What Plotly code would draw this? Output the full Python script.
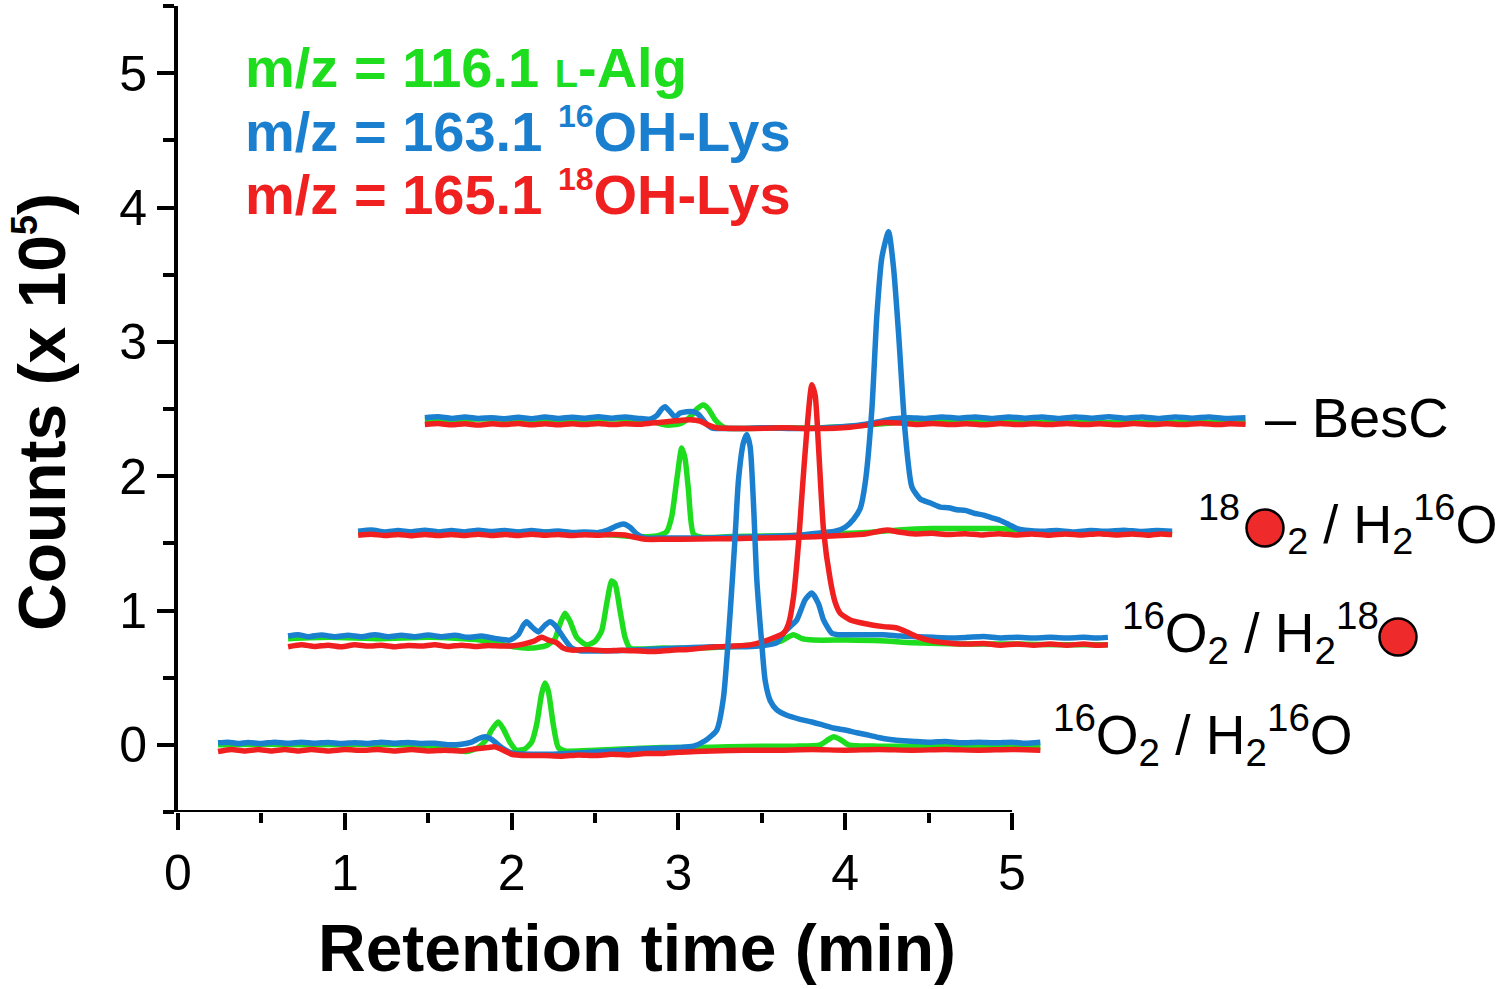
import plotly.graph_objects as go

# ---------------- data (raw chromatograms, x in min, y in counts x 1e5) ----------------
CONDITIONS = ["16O2 / H216O", "16O2 / H218O", "18O2 / H216O", "- BesC"]
X_SHIFT = [0.0, 0.41, 0.82, 1.23]     # horizontal stacking offset of each chromatogram
Y_SHIFT = [0.0, 0.80, 1.58, 2.42]     # vertical stacking offset of each chromatogram
SERIES = ["m/z = 116.1 L-Alg", "m/z = 163.1 16OH-Lys", "m/z = 165.1 18OH-Lys"]

# condition 0 : 16O2 / H2 16O
C0_GREEN = [(0.24, 0.0), (0.5, 0.005), (0.8, 0.0), (1.1, 0.005), (1.4, 0.0), (1.6, -0.02), (1.73, -0.05),
            (1.80, -0.02), (1.85, 0.04), (1.88, 0.11), (1.92, 0.17), (1.95, 0.12), (1.99, 0.02), (2.03, -0.04),
            (2.08, -0.03), (2.12, 0.02), (2.15, 0.15), (2.18, 0.38), (2.20, 0.46), (2.22, 0.40), (2.25, 0.15),
            (2.28, -0.02), (2.32, -0.045), (2.5, -0.04), (2.7, -0.03), (2.9, -0.02), (3.1, -0.02), (3.3, -0.015),
            (3.5, -0.01), (3.7, -0.01), (3.85, 0.0), (3.90, 0.04), (3.93, 0.06), (3.97, 0.04), (4.02, 0.0),
            (4.2, -0.01), (4.5, -0.01), (4.8, -0.015), (5.17, -0.02)]
C0_BLUE = [(0.24, 0.015), (0.30, 0.02), (0.36, 0.01), (0.42, 0.018), (0.50, 0.01), (0.58, 0.02), (0.66, 0.012),
           (0.74, 0.02), (0.82, 0.012), (0.90, 0.018), (0.98, 0.01), (1.06, 0.016), (1.14, 0.01), (1.22, 0.02),
           (1.30, 0.012), (1.38, 0.018), (1.46, 0.01), (1.54, 0.012), (1.62, 0.0), (1.70, 0.005), (1.76, 0.02),
           (1.80, 0.045), (1.84, 0.06), (1.88, 0.04), (1.94, -0.02), (2.00, -0.06), (2.2, -0.07), (2.4, -0.06),
           (2.6, -0.045), (2.8, -0.03), (3.0, -0.02), (3.09, -0.01), (3.16, 0.03), (3.23, 0.11), (3.27, 0.35),
           (3.31, 0.98), (3.34, 1.55), (3.36, 1.97), (3.39, 2.25), (3.41, 2.31), (3.43, 2.22), (3.45, 1.8),
           (3.47, 1.23), (3.50, 0.75), (3.52, 0.48), (3.55, 0.33), (3.59, 0.26), (3.65, 0.22), (3.73, 0.19),
           (3.80, 0.17), (3.86, 0.15), (3.93, 0.125), (4.00, 0.11), (4.07, 0.09), (4.13, 0.075), (4.20, 0.055),
           (4.27, 0.04), (4.35, 0.03), (4.43, 0.025), (4.52, 0.02), (4.60, 0.025), (4.70, 0.015), (4.80, 0.02),
           (4.90, 0.015), (5.00, 0.02), (5.08, 0.012), (5.17, 0.02)]
C0_RED = [(0.24, -0.05), (0.32, -0.035), (0.40, -0.045), (0.48, -0.035), (0.56, -0.045), (0.64, -0.035),
          (0.72, -0.045), (0.80, -0.035), (0.90, -0.045), (1.00, -0.035), (1.10, -0.04), (1.20, -0.035),
          (1.30, -0.045), (1.40, -0.035), (1.50, -0.045), (1.60, -0.04), (1.70, -0.045), (1.78, -0.03),
          (1.86, -0.02), (1.90, -0.015), (1.95, -0.04), (2.00, -0.07), (2.10, -0.08), (2.20, -0.08), (2.30, -0.085),
          (2.40, -0.075), (2.50, -0.08), (2.60, -0.07), (2.70, -0.075), (2.80, -0.065), (2.90, -0.065),
          (3.00, -0.055), (3.10, -0.05), (3.20, -0.045), (3.40, -0.04), (3.60, -0.04), (3.80, -0.035),
          (4.00, -0.04), (4.20, -0.035), (4.40, -0.04), (4.60, -0.035), (4.80, -0.04), (5.00, -0.035), (5.17, -0.04)]

# condition 1 : 16O2 / H2 18O
C1_GREEN = [(0.25, -0.01), (0.5, 0.0), (0.8, -0.01), (1.1, 0.0), (1.4, -0.02), (1.6, -0.07), (1.7, -0.08),
            (1.80, -0.06), (1.85, -0.01), (1.88, 0.10), (1.91, 0.18), (1.94, 0.12), (1.98, 0.0), (2.04, -0.056),
            (2.09, -0.03), (2.13, 0.05), (2.16, 0.25), (2.19, 0.42), (2.21, 0.40), (2.24, 0.2), (2.27, 0.0),
            (2.30, -0.08), (2.5, -0.08), (2.7, -0.08), (2.9, -0.07), (3.1, -0.05), (3.2, -0.03), (3.28, 0.02),
            (3.33, -0.01), (3.4, -0.02), (3.6, -0.02), (3.8, -0.025), (4.0, -0.04), (4.3, -0.05), (4.6, -0.05),
            (4.9, -0.055), (5.165, -0.055)]
C1_BLUE = [(0.25, 0.01), (0.31, 0.02), (0.37, 0.005), (0.45, 0.018), (0.53, 0.005), (0.61, 0.015), (0.69, 0.005),
           (0.77, 0.02), (0.85, 0.005), (0.93, 0.015), (1.01, 0.005), (1.09, 0.018), (1.17, 0.005), (1.25, 0.015),
           (1.33, 0.0), (1.41, 0.01), (1.50, -0.01), (1.58, -0.02), (1.63, 0.02), (1.66, 0.09), (1.68, 0.117),
           (1.71, 0.08), (1.75, 0.04), (1.79, 0.09), (1.82, 0.117), (1.85, 0.09), (1.90, 0.0), (1.95, -0.08),
           (2.00, -0.10), (2.2, -0.10), (2.4, -0.09), (2.6, -0.08), (2.8, -0.07), (3.0, -0.07), (3.1, -0.06),
           (3.18, -0.04), (3.22, 0.03), (3.26, 0.08), (3.30, 0.13), (3.35, 0.28), (3.39, 0.33), (3.43, 0.25),
           (3.46, 0.13), (3.51, 0.03), (3.55, 0.02), (3.62, 0.02), (3.72, 0.02), (3.82, 0.02), (3.92, 0.01),
           (4.02, 0.005), (4.12, 0.0), (4.22, -0.004), (4.32, 0.0), (4.42, 0.006), (4.52, -0.004), (4.62, 0.0),
           (4.72, -0.004), (4.82, 0.0), (4.92, -0.004), (5.02, 0.0), (5.10, -0.004), (5.165, 0.0)]
C1_RED = [(0.25, -0.07), (0.33, -0.055), (0.41, -0.068), (0.49, -0.058), (0.57, -0.07), (0.65, -0.055),
          (0.73, -0.065), (0.81, -0.058), (0.89, -0.07), (0.97, -0.06), (1.05, -0.065), (1.13, -0.055),
          (1.21, -0.068), (1.29, -0.058), (1.37, -0.068), (1.45, -0.06), (1.53, -0.065), (1.60, -0.062),
          (1.66, -0.05), (1.72, -0.03), (1.77, 0.0), (1.81, -0.02), (1.86, -0.04), (1.90, -0.08), (1.95, -0.095),
          (2.05, -0.09), (2.15, -0.1), (2.25, -0.095), (2.42, -0.106), (2.55, -0.095), (2.65, -0.09),
          (2.82, -0.07), (2.92, -0.065), (3.02, -0.056), (3.10, -0.031), (3.18, 0.006), (3.22, 0.03),
          (3.25, 0.10), (3.28, 0.30), (3.31, 0.70), (3.33, 1.05), (3.36, 1.54), (3.39, 1.88), (3.41, 1.80),
          (3.43, 1.42), (3.46, 0.80), (3.50, 0.43), (3.53, 0.26), (3.56, 0.18), (3.62, 0.13), (3.72, 0.10),
          (3.82, 0.08), (3.90, 0.07), (3.96, 0.04), (4.02, 0.006), (4.12, -0.03), (4.22, -0.043), (4.32, -0.05),
          (4.42, -0.045), (4.52, -0.058), (4.62, -0.05), (4.72, -0.058), (4.82, -0.05), (4.92, -0.058),
          (5.02, -0.05), (5.10, -0.058), (5.165, -0.055)]

# condition 2 : 18O2 / H2 16O
C2_GREEN = [(0.26, 0.0), (0.6, 0.005), (1.0, 0.0), (1.4, 0.005), (1.7, -0.01), (1.9, -0.03), (2.05, -0.025),
            (2.11, 0.007), (2.14, 0.12), (2.17, 0.39), (2.20, 0.63), (2.22, 0.55), (2.24, 0.32), (2.27, -0.01),
            (2.32, -0.035), (2.5, -0.03), (2.7, -0.025), (2.9, -0.02), (3.1, -0.01), (3.3, 0.0), (3.5, 0.02),
            (3.7, 0.03), (3.9, 0.03), (4.1, 0.03), (4.25, 0.015), (4.4, -0.005), (4.7, -0.005), (5.14, -0.005)]
C2_BLUE = [(0.26, 0.01), (0.34, 0.02), (0.42, 0.005), (0.50, 0.015), (0.58, 0.005), (0.66, 0.018), (0.74, 0.005),
           (0.82, 0.015), (0.90, 0.005), (0.98, 0.018), (1.06, 0.008), (1.14, 0.015), (1.22, 0.005), (1.30, 0.015),
           (1.38, 0.005), (1.46, 0.012), (1.54, 0.0), (1.62, 0.005), (1.70, 0.0), (1.76, 0.02), (1.81, 0.05),
           (1.85, 0.064), (1.89, 0.04), (1.93, -0.01), (1.98, -0.04), (2.1, -0.04), (2.3, -0.04), (2.5, -0.035),
           (2.7, -0.03), (2.9, -0.02), (3.05, 0.0), (3.12, 0.01), (3.18, 0.04), (3.23, 0.1), (3.27, 0.18),
           (3.30, 0.37), (3.34, 0.92), (3.37, 1.62), (3.40, 2.05), (3.44, 2.24), (3.47, 1.97), (3.50, 1.48),
           (3.54, 0.74), (3.58, 0.34), (3.63, 0.25), (3.69, 0.22), (3.75, 0.19), (3.80, 0.185), (3.85, 0.17),
           (3.90, 0.165), (3.95, 0.145), (4.01, 0.13), (4.06, 0.11), (4.11, 0.09), (4.16, 0.06), (4.21, 0.03),
           (4.28, 0.015), (4.35, 0.01), (4.45, 0.015), (4.55, 0.005), (4.65, 0.015), (4.75, 0.01), (4.85, 0.018),
           (4.95, 0.008), (5.05, 0.015), (5.14, 0.01)]
C2_RED = [(0.26, -0.02), (0.34, -0.012), (0.42, -0.022), (0.50, -0.014), (0.58, -0.024), (0.66, -0.014),
          (0.74, -0.022), (0.82, -0.014), (0.90, -0.022), (0.98, -0.012), (1.06, -0.022), (1.14, -0.014),
          (1.22, -0.022), (1.30, -0.012), (1.38, -0.02), (1.46, -0.014), (1.54, -0.022), (1.62, -0.016),
          (1.70, -0.02), (1.78, -0.014), (1.86, -0.018), (1.92, -0.035), (1.98, -0.05), (2.1, -0.05),
          (2.3, -0.048), (2.5, -0.045), (2.7, -0.04), (2.9, -0.035), (3.1, -0.025), (3.3, -0.01), (3.43, 0.02),
          (3.5, 0.005), (3.6, -0.01), (3.7, -0.005), (3.8, -0.015), (3.9, -0.008), (4.0, -0.018), (4.1, -0.008),
          (4.2, -0.018), (4.3, -0.01), (4.4, -0.02), (4.5, -0.01), (4.6, -0.018), (4.7, -0.008), (4.8, -0.018),
          (4.9, -0.01), (5.0, -0.02), (5.07, -0.01), (5.14, -0.015)]

# condition 3 : - BesC
C3_GREEN = [(0.25, 0.0), (0.6, 0.005), (1.0, 0.0), (1.4, 0.005), (1.6, -0.01), (1.70, -0.04), (1.78, -0.03),
            (1.84, 0.02), (1.88, 0.08), (1.92, 0.11), (1.95, 0.08), (1.99, 0.0), (2.05, -0.06), (2.3, -0.06),
            (2.6, -0.06), (2.9, -0.04), (3.2, -0.01), (3.6, -0.01), (4.0, -0.02), (4.5, -0.02), (5.17, -0.02)]
C3_BLUE = [(0.25, 0.015), (0.33, 0.022), (0.41, 0.01), (0.49, 0.02), (0.57, 0.01), (0.65, 0.015), (0.73, 0.008),
           (0.81, 0.018), (0.89, 0.008), (0.97, 0.02), (1.05, 0.01), (1.13, 0.018), (1.21, 0.012), (1.29, 0.022),
           (1.37, 0.012), (1.45, 0.02), (1.53, 0.01), (1.60, 0.005), (1.64, 0.03), (1.67, 0.08), (1.69, 0.097),
           (1.72, 0.06), (1.75, 0.02), (1.78, 0.05), (1.82, 0.06), (1.86, 0.06), (1.89, 0.04), (1.93, -0.02),
           (1.97, -0.06), (2.1, -0.065), (2.3, -0.06), (2.5, -0.065), (2.7, -0.055), (2.85, -0.04), (2.95, -0.02),
           (3.05, 0.005), (3.15, 0.015), (3.25, 0.01), (3.35, 0.02), (3.45, 0.012), (3.55, 0.02), (3.65, 0.01),
           (3.75, 0.02), (3.85, 0.012), (3.95, 0.02), (4.05, 0.01), (4.15, 0.02), (4.25, 0.012), (4.35, 0.022),
           (4.45, 0.012), (4.55, 0.02), (4.65, 0.01), (4.75, 0.02), (4.85, 0.012), (4.95, 0.02), (5.05, 0.01),
           (5.17, 0.015)]
C3_RED = [(0.25, -0.035), (0.33, -0.028), (0.41, -0.038), (0.49, -0.03), (0.57, -0.04), (0.65, -0.03),
          (0.73, -0.036), (0.81, -0.028), (0.89, -0.038), (0.97, -0.03), (1.05, -0.038), (1.13, -0.03),
          (1.21, -0.036), (1.29, -0.028), (1.37, -0.036), (1.45, -0.03), (1.53, -0.034), (1.61, -0.025),
          (1.70, -0.015), (1.78, -0.005), (1.84, 0.0), (1.90, -0.01), (1.95, -0.04), (2.0, -0.06), (2.2, -0.065),
          (2.4, -0.06), (2.6, -0.065), (2.8, -0.055), (2.9, -0.04), (3.0, -0.02), (3.1, -0.025), (3.2, -0.035),
          (3.3, -0.028), (3.4, -0.036), (3.5, -0.03), (3.6, -0.038), (3.7, -0.028), (3.8, -0.036), (3.9, -0.03),
          (4.0, -0.036), (4.1, -0.028), (4.2, -0.036), (4.3, -0.03), (4.4, -0.038), (4.5, -0.028), (4.6, -0.036),
          (4.7, -0.03), (4.8, -0.036), (4.9, -0.028), (5.0, -0.036), (5.08, -0.03), (5.17, -0.034)]

TRACES = [[C0_GREEN, C0_BLUE, C0_RED], [C1_GREEN, C1_BLUE, C1_RED],
          [C2_GREEN, C2_BLUE, C2_RED], [C3_GREEN, C3_BLUE, C3_RED]]
X_TICKS = [0, 1, 2, 3, 4, 5]
Y_TICKS = [0, 1, 2, 3, 4, 5]

# ---------------- styling ----------------
FONT = "Liberation Sans, Arial, Helvetica, sans-serif"
COLORS = ["#1EDC1E", "#1B7FCF", "#F02020"]
W, H = 1500, 989
ML, MR, MT, MB = 178, 0, 6, 177
PX_PER_MIN = 166.8
PX_PER_UNIT = (H - MT - MB) / 6.0
X_MAX = (W - ML - MR) / PX_PER_MIN


def px(xp):   # horizontal pixel -> paper
    return (xp - ML) / (W - ML - MR)


def py(yp):   # vertical pixel -> paper
    return (H - MB - yp) / (H - MT - MB)


fig = go.Figure()
for ci in [3, 2, 1, 0]:
    for si in range(3):
        pts = TRACES[ci][si]
        fig.add_trace(go.Scatter(
            x=[t + X_SHIFT[ci] for t, _ in pts],
            y=[v + Y_SHIFT[ci] for _, v in pts],
            mode="lines", line=dict(color=COLORS[si], width=5.5, shape="spline", smoothing=0.6),
            showlegend=False, hoverinfo="skip"))

# red 18O circles used inside the condition labels (pixel centres converted to axis units)
fig.add_trace(go.Scatter(
    x=[(1265 - ML) / PX_PER_MIN, (1398 - ML) / PX_PER_MIN],
    y=[(H - MB - 528) / PX_PER_UNIT - 0.5, (H - MB - 637) / PX_PER_UNIT - 0.5],
    mode="markers", cliponaxis=False, showlegend=False, hoverinfo="skip",
    marker=dict(size=37, color="#EE2A2A", line=dict(color="black", width=2.5))))

fig.update_layout(
    width=W, height=H, margin=dict(l=ML, r=MR, t=MT, b=MB, autoexpand=False),
    paper_bgcolor="white", plot_bgcolor="white", hovermode=False,
    font=dict(family=FONT, color="black"),
    xaxis=dict(range=[0, X_MAX], tickvals=X_TICKS, ticktext=[str(v) for v in X_TICKS],
               ticks="outside", ticklen=17, tickwidth=4, tickcolor="black", automargin=False,
               minor=dict(tickvals=[0.5, 1.5, 2.5, 3.5, 4.5], ticks="outside", ticklen=10, tickwidth=4,
                          tickcolor="black"),
               showgrid=False, zeroline=False, showline=False,
               tickfont=dict(size=50, family=FONT, color="black")),
    yaxis=dict(range=[-0.5, 5.5], tickvals=Y_TICKS, ticktext=[str(v) for v in Y_TICKS],
               ticks="outside", ticklen=17, tickwidth=4, tickcolor="black", automargin=False,
               minor=dict(tickvals=[-0.5, 0.5, 1.5, 2.5, 3.5, 4.5, 5.5], ticks="outside", ticklen=11,
                          tickwidth=4, tickcolor="black"),
               showgrid=False, zeroline=False, showline=True, linewidth=4, linecolor="black",
               tickfont=dict(size=50, family=FONT, color="black")),
    shapes=[dict(type="line", xref="x", yref="y", x0=0, x1=5, y0=-0.5, y1=-0.5,
                 line=dict(color="black", width=4))],
)

ann = []
# axis titles
ann.append(dict(text="<b>Retention time (min)</b>", xref="paper", yref="paper", x=px(637), y=py(948),
                xanchor="center", yanchor="middle", showarrow=False, font=dict(size=66, family=FONT)))
ann.append(dict(text="<b>Counts (x 10<sup><span style='font-size:36px'>5</span></sup>)</b>",
                xref="paper", yref="paper", x=px(41), y=py(412),
                xanchor="center", yanchor="middle", textangle=-90, showarrow=False,
                font=dict(size=66, family=FONT)))
# series legend texts
legend_txt = ["<b>m/z = 116.1 <span style='font-size:38px'>L</span>-Alg</b>",
              "<b>m/z = 163.1 <sup><span style='font-size:32px'>16</span></sup>OH-Lys</b>",
              "<b>m/z = 165.1 <sup><span style='font-size:32px'>18</span></sup>OH-Lys</b>"]
for i, (txt, yy) in enumerate(zip(legend_txt, [68, 131, 194])):
    ann.append(dict(text=txt, xref="paper", yref="paper", x=px(243), y=py(yy), xanchor="left",
                    yanchor="middle", showarrow=False, font=dict(size=56, family=FONT, color=COLORS[i])))
# condition labels (transparent glyphs reserve room for the red circles)
hide_o = "<span style='color:rgba(0,0,0,0)'>O</span>"
hide_w = "<span style='color:rgba(0,0,0,0);font-size:50px'>W</span>"
cond_txt = [("<sup>16</sup>O<sub>2</sub> / H<sub>2</sub><sup>16</sup>O", 1051, 735, 55),
            ("<sup>16</sup>O<sub>2</sub> / H<sub>2</sub><sup>18</sup>" + hide_o, 1120, 633, 55),
            ("<sup>18</sup>" + hide_w + "<sub>2</sub> / H<sub>2</sub><sup>16</sup>O", 1196, 524, 54),
            ("\u2013 BesC", 1263, 418, 56)]
for txt, xx, yy, fs in cond_txt:
    ann.append(dict(text=txt, xref="paper", yref="paper", x=px(xx), y=py(yy), xanchor="left",
                    yanchor="middle", showarrow=False, font=dict(size=fs, family=FONT, color="black")))
fig.update_layout(annotations=ann)

fig.write_html("out.html", config={"displayModeBar": False, "staticPlot": True},
               post_script="document.body.style.margin='0px';")
